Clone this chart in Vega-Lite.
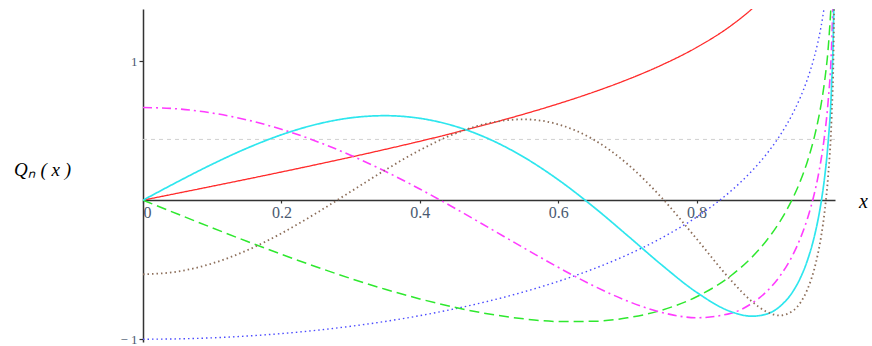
{
  "$schema": "https://vega.github.io/schema/vega-lite/v6.json",
  "width": 692,
  "height": 333,
  "autosize": {"type": "none"},
  "padding": {"left": 143, "top": 9, "right": 37, "bottom": 4},
  "background": "white",
  "config": {"view": {"stroke": null}, "font": "Liberation Serif"},
  "layer": [
    {
      "data": {"values": [{"y": 0.437}]},
      "mark": {"type": "rule", "color": "#d0d0d0", "strokeDash": [4, 4], "strokeWidth": 1},
      "encoding": {"y": {"field": "y", "type": "quantitative", "scale": {"domain": [-1.02, 1.375], "nice": false, "zero": false}}}
    },
    {
      "data": {"values": [
        {"x": 0, "n": "Q0", "y": 0}, {"x": 0.05, "n": "Q0", "y": 0.05}, {"x": 0.1, "n": "Q0", "y": 0.1003}, {"x": 0.15, "n": "Q0", "y": 0.1511}, {"x": 0.2, "n": "Q0", "y": 0.2027}, {"x": 0.25, "n": "Q0", "y": 0.2554}, {"x": 0.3, "n": "Q0", "y": 0.3095}, {"x": 0.35, "n": "Q0", "y": 0.3654}, {"x": 0.4, "n": "Q0", "y": 0.4236}, {"x": 0.45, "n": "Q0", "y": 0.4847}, {"x": 0.5, "n": "Q0", "y": 0.5493}, {"x": 0.55, "n": "Q0", "y": 0.6184}, {"x": 0.6, "n": "Q0", "y": 0.6931}, {"x": 0.65, "n": "Q0", "y": 0.7753}, {"x": 0.7, "n": "Q0", "y": 0.8673}, {"x": 0.75, "n": "Q0", "y": 0.973}, {"x": 0.8, "n": "Q0", "y": 1.0986}, {"x": 0.85, "n": "Q0", "y": 1.2562}, {"x": 0.88, "n": "Q0", "y": 1.3758}, {"x": 0.9, "n": "Q0", "y": 1.4722},
        {"x": 0, "n": "Q1", "y": -1}, {"x": 0.05, "n": "Q1", "y": -0.9975}, {"x": 0.1, "n": "Q1", "y": -0.99}, {"x": 0.15, "n": "Q1", "y": -0.9773}, {"x": 0.2, "n": "Q1", "y": -0.9595}, {"x": 0.25, "n": "Q1", "y": -0.9361}, {"x": 0.3, "n": "Q1", "y": -0.9071}, {"x": 0.35, "n": "Q1", "y": -0.8721}, {"x": 0.4, "n": "Q1", "y": -0.8305}, {"x": 0.45, "n": "Q1", "y": -0.7819}, {"x": 0.5, "n": "Q1", "y": -0.7253}, {"x": 0.55, "n": "Q1", "y": -0.6599}, {"x": 0.6, "n": "Q1", "y": -0.5841}, {"x": 0.65, "n": "Q1", "y": -0.4961}, {"x": 0.7, "n": "Q1", "y": -0.3929}, {"x": 0.75, "n": "Q1", "y": -0.2703}, {"x": 0.8, "n": "Q1", "y": -0.1211}, {"x": 0.85, "n": "Q1", "y": 0.0677}, {"x": 0.88, "n": "Q1", "y": 0.2107}, {"x": 0.9, "n": "Q1", "y": 0.325}, {"x": 0.92, "n": "Q1", "y": 0.4619}, {"x": 0.94, "n": "Q1", "y": 0.6338}, {"x": 0.95, "n": "Q1", "y": 0.7402}, {"x": 0.96, "n": "Q1", "y": 0.8681}, {"x": 0.97, "n": "Q1", "y": 1.0295}, {"x": 0.975, "n": "Q1", "y": 1.1301}, {"x": 0.98, "n": "Q1", "y": 1.2516}, {"x": 0.985, "n": "Q1", "y": 1.406},
        {"x": 0, "n": "Q2", "y": 0}, {"x": 0.05, "n": "Q2", "y": -0.0998}, {"x": 0.1, "n": "Q2", "y": -0.1987}, {"x": 0.15, "n": "Q2", "y": -0.2955}, {"x": 0.2, "n": "Q2", "y": -0.3892}, {"x": 0.25, "n": "Q2", "y": -0.4788}, {"x": 0.3, "n": "Q2", "y": -0.563}, {"x": 0.35, "n": "Q2", "y": -0.6406}, {"x": 0.4, "n": "Q2", "y": -0.7101}, {"x": 0.45, "n": "Q2", "y": -0.7701}, {"x": 0.5, "n": "Q2", "y": -0.8187}, {"x": 0.55, "n": "Q2", "y": -0.8536}, {"x": 0.6, "n": "Q2", "y": -0.8723}, {"x": 0.65, "n": "Q2", "y": -0.8713}, {"x": 0.7, "n": "Q2", "y": -0.8462}, {"x": 0.75, "n": "Q2", "y": -0.7905}, {"x": 0.8, "n": "Q2", "y": -0.6946}, {"x": 0.85, "n": "Q2", "y": -0.5417}, {"x": 0.88, "n": "Q2", "y": -0.4098}, {"x": 0.9, "n": "Q2", "y": -0.2974}, {"x": 0.92, "n": "Q2", "y": -0.1571}, {"x": 0.94, "n": "Q2", "y": 0.0246}, {"x": 0.95, "n": "Q2", "y": 0.1389}, {"x": 0.96, "n": "Q2", "y": 0.2771}, {"x": 0.97, "n": "Q2", "y": 0.4518}, {"x": 0.975, "n": "Q2", "y": 0.5604}, {"x": 0.98, "n": "Q2", "y": 0.6911}, {"x": 0.985, "n": "Q2", "y": 0.8561}, {"x": 0.99, "n": "Q2", "y": 1.0826}, {"x": 0.995, "n": "Q2", "y": 1.4572},
        {"x": 0, "n": "Q3", "y": 0.6667}, {"x": 0.05, "n": "Q3", "y": 0.6567}, {"x": 0.1, "n": "Q3", "y": 0.6269}, {"x": 0.15, "n": "Q3", "y": 0.5777}, {"x": 0.2, "n": "Q3", "y": 0.5099}, {"x": 0.25, "n": "Q3", "y": 0.4246}, {"x": 0.3, "n": "Q3", "y": 0.3233}, {"x": 0.35, "n": "Q3", "y": 0.2077}, {"x": 0.4, "n": "Q3", "y": 0.0803}, {"x": 0.45, "n": "Q3", "y": -0.0563}, {"x": 0.5, "n": "Q3", "y": -0.1987}, {"x": 0.55, "n": "Q3", "y": -0.3425}, {"x": 0.6, "n": "Q3", "y": -0.4829}, {"x": 0.65, "n": "Q3", "y": -0.6132}, {"x": 0.7, "n": "Q3", "y": -0.7253}, {"x": 0.75, "n": "Q3", "y": -0.808}, {"x": 0.8, "n": "Q3", "y": -0.8454}, {"x": 0.85, "n": "Q3", "y": -0.8126}, {"x": 0.88, "n": "Q3", "y": -0.7415}, {"x": 0.9, "n": "Q3", "y": -0.6627}, {"x": 0.92, "n": "Q3", "y": -0.5488}, {"x": 0.94, "n": "Q3", "y": -0.384}, {"x": 0.95, "n": "Q3", "y": -0.2736}, {"x": 0.96, "n": "Q3", "y": -0.1354}, {"x": 0.97, "n": "Q3", "y": 0.0441}, {"x": 0.975, "n": "Q3", "y": 0.1573}, {"x": 0.98, "n": "Q3", "y": 0.2944}, {"x": 0.985, "n": "Q3", "y": 0.468}, {"x": 0.99, "n": "Q3", "y": 0.7062}, {"x": 0.995, "n": "Q3", "y": 1.0968}, {"x": 0.998, "n": "Q3", "y": 1.5887},
        {"x": 0, "n": "Q4", "y": 0}, {"x": 0.05, "n": "Q4", "y": 0.1323}, {"x": 0.1, "n": "Q4", "y": 0.2587}, {"x": 0.15, "n": "Q4", "y": 0.3732}, {"x": 0.2, "n": "Q4", "y": 0.4704}, {"x": 0.25, "n": "Q4", "y": 0.5448}, {"x": 0.3, "n": "Q4", "y": 0.592}, {"x": 0.35, "n": "Q4", "y": 0.6077}, {"x": 0.4, "n": "Q4", "y": 0.5888}, {"x": 0.45, "n": "Q4", "y": 0.5332}, {"x": 0.5, "n": "Q4", "y": 0.4402}, {"x": 0.55, "n": "Q4", "y": 0.3105}, {"x": 0.6, "n": "Q4", "y": 0.1472}, {"x": 0.65, "n": "Q4", "y": -0.044}, {"x": 0.7, "n": "Q4", "y": -0.2538}, {"x": 0.75, "n": "Q4", "y": -0.4676}, {"x": 0.8, "n": "Q4", "y": -0.6626}, {"x": 0.85, "n": "Q4", "y": -0.8024}, {"x": 0.88, "n": "Q4", "y": -0.8345}, {"x": 0.9, "n": "Q4", "y": -0.8207}, {"x": 0.92, "n": "Q4", "y": -0.7658}, {"x": 0.94, "n": "Q4", "y": -0.6501}, {"x": 0.95, "n": "Q4", "y": -0.559}, {"x": 0.96, "n": "Q4", "y": -0.4353}, {"x": 0.97, "n": "Q4", "y": -0.264}, {"x": 0.975, "n": "Q4", "y": -0.152}, {"x": 0.98, "n": "Q4", "y": -0.0135}, {"x": 0.985, "n": "Q4", "y": 0.1647}, {"x": 0.99, "n": "Q4", "y": 0.4116}, {"x": 0.995, "n": "Q4", "y": 0.8169}, {"x": 0.998, "n": "Q4", "y": 1.3229}, {"x": 0.9995, "n": "Q4", "y": 2.0483},
        {"x": 0, "n": "Q5", "y": -0.5333}, {"x": 0.05, "n": "Q5", "y": -0.5134}, {"x": 0.1, "n": "Q5", "y": -0.4549}, {"x": 0.15, "n": "Q5", "y": -0.3614}, {"x": 0.2, "n": "Q5", "y": -0.2386}, {"x": 0.25, "n": "Q5", "y": -0.0945}, {"x": 0.3, "n": "Q5", "y": 0.061}, {"x": 0.35, "n": "Q5", "y": 0.2166}, {"x": 0.4, "n": "Q5", "y": 0.3597}, {"x": 0.45, "n": "Q5", "y": 0.477}, {"x": 0.5, "n": "Q5", "y": 0.5551}, {"x": 0.55, "n": "Q5", "y": 0.5814}, {"x": 0.6, "n": "Q5", "y": 0.5453}, {"x": 0.65, "n": "Q5", "y": 0.439}, {"x": 0.7, "n": "Q5", "y": 0.2604}, {"x": 0.75, "n": "Q5", "y": 0.0152}, {"x": 0.8, "n": "Q5", "y": -0.2779}, {"x": 0.85, "n": "Q5", "y": -0.5777}, {"x": 0.88, "n": "Q5", "y": -0.7287}, {"x": 0.9, "n": "Q5", "y": -0.7994}, {"x": 0.92, "n": "Q5", "y": -0.829}, {"x": 0.94, "n": "Q5", "y": -0.7928}, {"x": 0.95, "n": "Q5", "y": -0.737}, {"x": 0.96, "n": "Q5", "y": -0.6438}, {"x": 0.97, "n": "Q5", "y": -0.4963}, {"x": 0.975, "n": "Q5", "y": -0.3925}, {"x": 0.98, "n": "Q5", "y": -0.2593}, {"x": 0.985, "n": "Q5", "y": -0.0824}, {"x": 0.99, "n": "Q5", "y": 0.1685}, {"x": 0.995, "n": "Q5", "y": 0.5857}, {"x": 0.998, "n": "Q5", "y": 1.1055}, {"x": 0.9995, "n": "Q5", "y": 1.8421}
      ]},
      "mark": {"type": "line", "clip": true, "interpolate": "monotone"},
      "encoding": {
        "x": {
          "field": "x", "type": "quantitative",
          "scale": {"domain": [0, 1], "nice": false, "zero": false},
          "axis": {
            "values": [0, 0.2, 0.4, 0.6, 0.8],
            "labelExpr": "datum.value == 0 ? '0' : format(datum.value, '.1f')",
            "offset": -142, "grid": false,
            "domainColor": "#333333", "domainWidth": 1.3,
            "tickColor": "#333333", "tickSize": 3, "tickWidth": 1.2,
            "labelColor": "#4a5a70", "labelFontSize": 16, "labelFont": "Liberation Serif",
            "labelPadding": 1, "labelDx": 4,
            "title": "x", "titleX": 720, "titleY": 1,
            "titleFont": "Liberation Serif", "titleFontStyle": "italic", "titleFontSize": 20,
            "titleFontWeight": "normal", "titleBaseline": "middle", "titleAlign": "center", "titleColor": "#000000"
          }
        },
        "y": {
          "field": "y", "type": "quantitative",
          "scale": {"domain": [-1.02, 1.375], "nice": false, "zero": false},
          "axis": {
            "values": [1, -1],
            "labelExpr": "datum.value == 1 ? '1' : '\u2212 1'",
            "grid": false,
            "domainColor": "#333333", "domainWidth": 1.5,
            "tickColor": "#333333", "tickSize": 4, "tickWidth": 1.2,
            "labelColor": "#4a5a70", "labelFontSize": 13, "labelFont": "Liberation Serif", "labelPadding": 2,
            "title": "Q\u2099  ( x )", "titleAngle": 0, "titleX": -101, "titleY": 160,
            "titleFont": "Liberation Serif", "titleFontStyle": "italic", "titleFontSize": 19,
            "titleFontWeight": "normal", "titleBaseline": "middle", "titleAlign": "center", "titleColor": "#000000"
          }
        },
        "color": {
          "field": "n", "type": "nominal", "legend": null,
          "scale": {"domain": ["Q0", "Q1", "Q2", "Q3", "Q4", "Q5"], "range": ["#ff2a2a", "#4b4bff", "#2ee82e", "#ff3cff", "#2ee6ee", "#8c6e5a"]}
        },
        "strokeDash": {
          "field": "n", "type": "nominal", "legend": null,
          "scale": {"domain": ["Q0", "Q1", "Q2", "Q3", "Q4", "Q5"], "range": [[1, 0], [1.5, 3], [10, 5], [9, 4, 2, 4], [1, 0], [1.5, 3]]}
        },
        "strokeWidth": {
          "field": "n", "type": "nominal", "legend": null,
          "scale": {"domain": ["Q0", "Q1", "Q2", "Q3", "Q4", "Q5"], "range": [1.3, 1.8, 1.6, 1.8, 1.5, 1.6]}
        }
      }
    }
  ]
}
